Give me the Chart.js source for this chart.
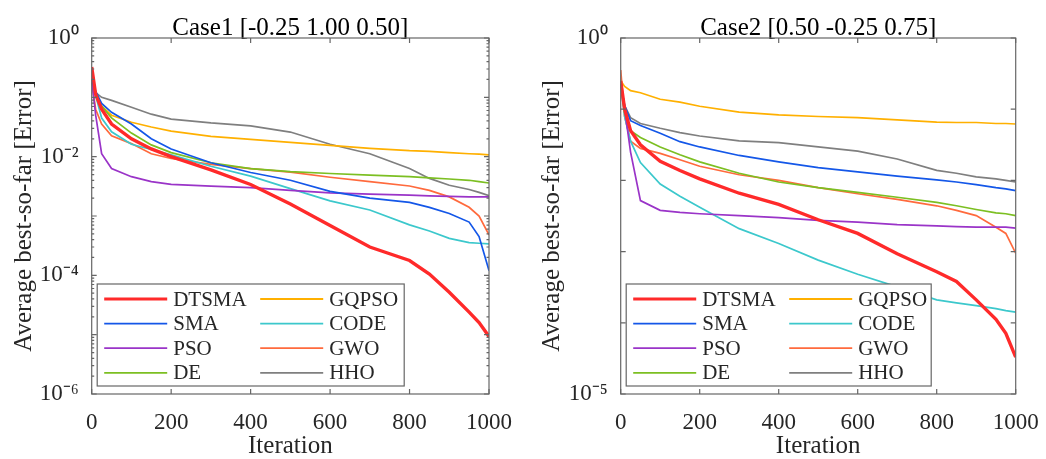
<!DOCTYPE html>
<html>
<head>
<meta charset="utf-8">
<script src="https://cdn.jsdelivr.net/npm/chart.js@4.4.0/dist/chart.umd.min.js"></script>
<style>
    html, body { margin: 0; padding: 0; background: #fff; }
    #wrap { position: relative; width: 1046px; height: 459px; }
    .panel { position: absolute; top: 0; height: 459px; }
    #p1 { left: 0; width: 520px; }
    #p2 { left: 520px; width: 526px; }
</style>
</head>
<body>
<div id="wrap">
    <div class="panel" id="p1"><canvas id="case1Chart"></canvas></div>
    <div class="panel" id="p2"><canvas id="case2Chart"></canvas></div>
</div>
<script>
// Sampled iterations (shared by every curve)
const iterations = [0, 10, 25, 50, 100, 150, 200, 300, 400, 500, 600, 700, 800, 850, 900, 950, 975, 1000];

const methods = ['DTSMA', 'SMA', 'PSO', 'DE', 'GQPSO', 'CODE', 'GWO', 'HHO'];
const methodColors = ['#ff2a2a', '#1457e8', '#9a34c8', '#7cbf22', '#ffb000', '#3cc8cc', '#ff6a3d', '#7f7f7f'];

// Case1 [-0.25 1.00 0.50]
const case1DTSMA = [0.324, 0.112, 0.063, 0.0355, 0.02, 0.0135, 0.01, 0.006, 0.0034, 0.0016, 6.9e-4, 3.0e-4, 1.78e-4, 1.05e-4, 5.2e-5, 2.4e-5, 1.6e-5, 9.3e-6];
const case1SMA = [0.2, 0.126, 0.079, 0.056, 0.0355, 0.02, 0.0135, 0.0079, 0.0054, 0.004, 0.0026, 0.002, 0.0017, 0.0014, 0.0011, 7.9e-4, 4.5e-4, 1.2e-4];
const case1PSO = [0.2, 0.05, 0.0112, 0.0063, 0.0046, 0.0038, 0.0034, 0.0032, 0.003, 0.0027, 0.00245, 0.00234, 0.00224, 0.00219, 0.00214, 0.0021, 0.0021, 0.0021];
const case1DE = [0.178, 0.112, 0.071, 0.045, 0.025, 0.0158, 0.0117, 0.0079, 0.0063, 0.0056, 0.0052, 0.0049, 0.0046, 0.0044, 0.0042, 0.004, 0.0038, 0.0036];
const case1GQPSO = [0.178, 0.112, 0.071, 0.05, 0.038, 0.0316, 0.0269, 0.0219, 0.0195, 0.0174, 0.0155, 0.0138, 0.0126, 0.0123, 0.0117, 0.0112, 0.011, 0.0107];
const case1CODE = [0.178, 0.107, 0.0447, 0.0263, 0.0162, 0.0132, 0.0107, 0.0069, 0.0047, 0.0029, 0.0018, 0.00126, 7.1e-4, 5.6e-4, 4.2e-4, 3.55e-4, 3.47e-4, 3.4e-4];
const case1GWO = [0.178, 0.063, 0.0355, 0.0224, 0.0166, 0.0112, 0.0093, 0.0074, 0.0063, 0.0055, 0.0045, 0.0038, 0.0032, 0.0027, 0.0021, 0.0014, 0.001, 4.8e-4];
const case1HHO = [0.2, 0.12, 0.1, 0.089, 0.068, 0.052, 0.043, 0.037, 0.033, 0.026, 0.0162, 0.0112, 0.0063, 0.0043, 0.0033, 0.0028, 0.0025, 0.0022];

// Case2 [0.50 -0.25 0.75]
const case2DTSMA = [0.25, 0.1, 0.05, 0.0316, 0.0186, 0.0138, 0.0105, 0.0066, 0.0046, 0.0028, 0.0018, 9.3e-4, 5.2e-4, 3.8e-4, 2.1e-4, 1.12e-4, 7.1e-5, 3.3e-5];
const case2SMA = [0.224, 0.112, 0.069, 0.059, 0.046, 0.035, 0.0295, 0.0224, 0.0182, 0.0151, 0.0132, 0.0115, 0.0102, 0.0095, 0.0087, 0.0079, 0.0076, 0.0072];
const case2PSO = [0.25, 0.1, 0.025, 0.0052, 0.0038, 0.00355, 0.0034, 0.0032, 0.003, 0.00275, 0.0026, 0.0024, 0.0023, 0.00224, 0.0022, 0.0022, 0.0022, 0.00214];
const case2DE = [0.224, 0.089, 0.05, 0.04, 0.0295, 0.0229, 0.0182, 0.0126, 0.0095, 0.0079, 0.0068, 0.0058, 0.0049, 0.0044, 0.0039, 0.0035, 0.0034, 0.0032];
const case2GQPSO = [0.25, 0.209, 0.182, 0.17, 0.138, 0.126, 0.11, 0.091, 0.083, 0.079, 0.076, 0.071, 0.066, 0.065, 0.065, 0.063, 0.063, 0.062];
const case2CODE = [0.224, 0.079, 0.0355, 0.0178, 0.0089, 0.006, 0.0042, 0.0021, 0.0013, 7.6e-4, 4.8e-4, 3.2e-4, 2.1e-4, 1.9e-4, 1.74e-4, 1.58e-4, 1.48e-4, 1.41e-4];
const case2GWO = [0.355, 0.079, 0.0355, 0.0282, 0.024, 0.0195, 0.0158, 0.012, 0.01, 0.0079, 0.0065, 0.0054, 0.0044, 0.0038, 0.0032, 0.0022, 0.0018, 9.5e-4];
const case2HHO = [0.224, 0.112, 0.076, 0.063, 0.054, 0.047, 0.042, 0.036, 0.034, 0.0295, 0.0257, 0.02, 0.0138, 0.0126, 0.0112, 0.0105, 0.01, 0.0095];

// Tick labels
const xTicks = [0, 200, 400, 600, 800, 1000];
const case1YLabels = { '0': '10⁰', '-2': '10⁻²', '-4': '10⁻⁴', '-6': '10⁻⁶' };
const case2YLabels = { '0': '10⁰', '-5': '10⁻⁵' };

const FONT = '"Liberation Serif", "Times New Roman", serif';

function buildDatasets(series) {
    return series.map((values, i) => ({
        label: methods[i],
        data: values.map((v, k) => ({ x: iterations[k], y: v })),
        borderColor: methodColors[i],
        backgroundColor: methodColors[i],
        borderWidth: i === 0 ? 3.4 : 1.7,
        pointRadius: 0,
        tension: 0,
        fill: false
    }));
}

// Box around the axes with inward tick marks (major + optional minor on log axis)
const axesFrame = {
    id: 'axesFrame',
    afterDatasetsDraw(chart, args, opts) {
        const { ctx, chartArea: a, scales: { x, y } } = chart;
        ctx.save();
        ctx.strokeStyle = '#666';
        ctx.lineWidth = 1.2;
        ctx.strokeRect(a.left, a.top, a.right - a.left, a.bottom - a.top);
        ctx.beginPath();
        xTicks.forEach(t => {
            const px = x.getPixelForValue(t);
            ctx.moveTo(px, a.bottom); ctx.lineTo(px, a.bottom - 5);
            ctx.moveTo(px, a.top); ctx.lineTo(px, a.top + 5);
        });
        for (let e = opts.minExp; e <= 0; e++) {
            const py = y.getPixelForValue(Math.pow(10, e));
            ctx.moveTo(a.left, py); ctx.lineTo(a.left + 5, py);
            ctx.moveTo(a.right, py); ctx.lineTo(a.right - 5, py);
            if (opts.minor && e < 0) {
                for (let m = 2; m <= 9; m++) {
                    const pm = y.getPixelForValue(m * Math.pow(10, e));
                    ctx.moveTo(a.left, pm); ctx.lineTo(a.left + 2.5, pm);
                    ctx.moveTo(a.right, pm); ctx.lineTo(a.right - 2.5, pm);
                }
            }
        }
        ctx.stroke();
        ctx.restore();
    }
};

// Two-column legend inside the plot, bottom-left
const boxLegend = {
    id: 'boxLegend',
    afterDraw(chart, args, opts) {
        const { ctx, chartArea: a } = chart;
        const bx = a.left + 5.5, by = a.bottom - 8 - 102, bw = opts.width, bh = 102;
        ctx.save();
        ctx.fillStyle = '#fff';
        ctx.fillRect(bx, by, bw, bh);
        ctx.strokeStyle = '#666';
        ctx.lineWidth = 1.2;
        ctx.strokeRect(bx, by, bw, bh);
        ctx.font = '21px ' + FONT;
        ctx.textBaseline = 'middle';
        ctx.fillStyle = '#262626';
        chart.data.datasets.forEach((ds, i) => {
            const col = Math.floor(i / 4), row = i % 4;
            const cy = by + 15 + row * 24.6;
            const lx = bx + 7 + col * 156;
            ctx.strokeStyle = ds.borderColor;
            ctx.lineWidth = i === 0 ? 3 : 1.8;
            ctx.beginPath();
            ctx.moveTo(lx, cy); ctx.lineTo(lx + 63, cy);
            ctx.stroke();
            ctx.fillText(ds.label, lx + 69, cy + 1);
        });
        ctx.restore();
    }
};

function makeChart(canvasId, title, series, opt) {
    const ctx = document.getElementById(canvasId);
    return new Chart(ctx, {
        type: 'line',
        data: { datasets: buildDatasets(series) },
        plugins: [axesFrame, boxLegend],
        options: {
            responsive: true,
            maintainAspectRatio: false,
            animation: false,
            layout: { padding: { left: 0, right: opt.padRight, top: 0, bottom: 0 } },
            plugins: {
                legend: { display: false },
                tooltip: { enabled: false },
                title: {
                    display: true,
                    text: title,
                    fullSize: false,
                    color: '#000',
                    font: { family: FONT, size: 25, weight: 'normal', lineHeight: 0.8 },
                    padding: { top: 18, bottom: 0 }
                },
                axesFrame: { minExp: opt.minExp, minor: opt.minor },
                boxLegend: { width: opt.legendWidth }
            },
            scales: {
                x: {
                    type: 'linear',
                    min: 0,
                    max: 1000,
                    afterBuildTicks: scale => { scale.ticks = xTicks.map(v => ({ value: v })); },
                    afterFit: scale => { scale.height = 65; scale.paddingLeft = 0; scale.paddingRight = 0; },
                    grid: { display: false, drawTicks: false },
                    border: { display: false },
                    ticks: { color: '#262626', font: { family: FONT, size: 23 }, padding: 15, maxRotation: 0, callback: v => String(v) },
                    title: { display: true, text: 'Iteration', color: '#262626', font: { family: FONT, size: 25, lineHeight: 1 }, padding: { top: 0, bottom: 0 } }
                },
                y: {
                    type: 'logarithmic',
                    min: Math.pow(10, opt.minExp),
                    max: 1,
                    afterBuildTicks: scale => {
                        const t = [];
                        for (let e = opt.minExp; e <= 0; e++) t.push({ value: Math.pow(10, e) });
                        scale.ticks = t;
                    },
                    afterFit: scale => { scale.width = opt.axisWidth; scale.paddingTop = 0; scale.paddingBottom = 0; },
                    grid: { display: false, drawTicks: false },
                    border: { display: false },
                    ticks: {
                        color: '#262626',
                        font: { family: FONT, size: 23 },
                        padding: 13,
                        callback: v => opt.yLabels[String(Math.round(Math.log10(v)))] || ''
                    },
                    title: { display: true, text: 'Average best-so-far [Error]', color: '#262626', font: { family: FONT, size: 25, lineHeight: 1 }, padding: { top: opt.titlePad, bottom: 0 } }
                }
            }
        }
    });
}

makeChart('case1Chart', 'Case1 [-0.25 1.00 0.50]',
    [case1DTSMA, case1SMA, case1PSO, case1DE, case1GQPSO, case1CODE, case1GWO, case1HHO],
    { minExp: -6, minor: true, yLabels: case1YLabels, axisWidth: 91.7, padRight: 31, legendWidth: 307, titlePad: 11.5 });

makeChart('case2Chart', 'Case2 [0.50 -0.25 0.75]',
    [case2DTSMA, case2SMA, case2PSO, case2DE, case2GQPSO, case2CODE, case2GWO, case2HHO],
    { minExp: -5, minor: false, yLabels: case2YLabels, axisWidth: 100.7, padRight: 30.3, legendWidth: 305, titlePad: 20 });
</script>
</body>
</html>
